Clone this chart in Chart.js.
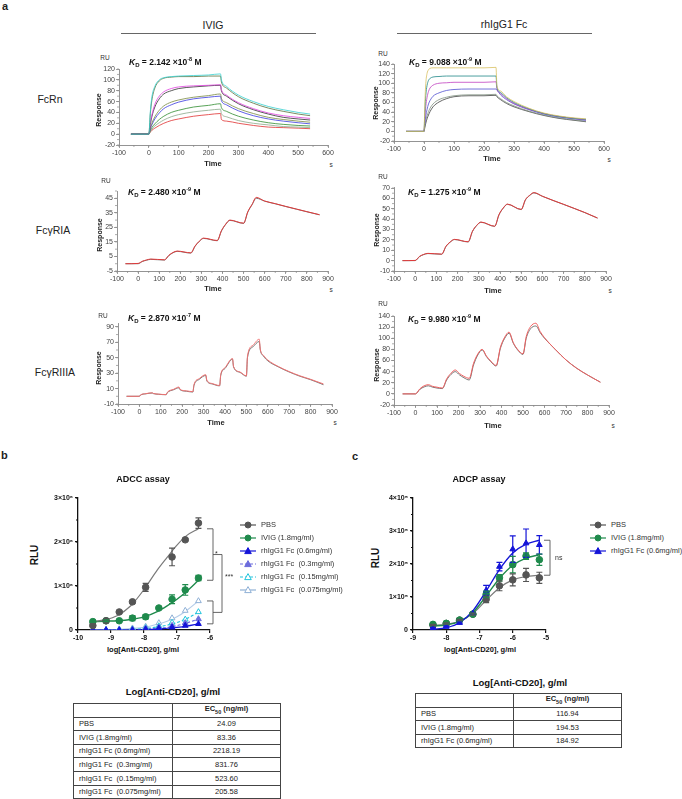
<!DOCTYPE html>
<html><head><meta charset="utf-8">
<script src="https://cdn.jsdelivr.net/npm/chart.js@4.4.1/dist/chart.umd.min.js"></script>
<style>
body{margin:0;background:#fff;}
#page{position:relative;width:682px;height:799px;overflow:hidden;font-family:"Liberation Sans",Arial,sans-serif;color:#222;background:#fff;}
.t{position:absolute;white-space:nowrap;line-height:1;}
canvas{position:absolute;}
.lab{font-size:10.5px;color:#222;}
.ru{font-size:6.5px;color:#333;}
.kd{font-size:8.5px;font-weight:bold;color:#111;}
.kd sub{font-size:6px;vertical-align:-2px;}
.kd sup{font-size:5.5px;vertical-align:4px;}
.resp{font-size:7px;font-weight:bold;color:#222;}
.time{font-size:7.5px;font-weight:bold;color:#222;}
.sec{font-size:6.5px;color:#333;}
.ttl{font-size:9px;font-weight:bold;color:#111;}
.rlu{font-size:10px;font-weight:bold;color:#111;}
.xl{font-size:7.5px;font-weight:bold;color:#111;}
.leg{font-size:7.5px;color:#333;}
.tbt{font-size:9.5px;font-weight:bold;color:#111;}
table.tb{position:absolute;border-collapse:collapse;font-size:7.5px;color:#222;}
table.tb td{border:1px solid #444;padding:0 0 0 5px;height:12.6px;line-height:1;}
table.tb td.v{text-align:center;padding:0;}
table.tb td.h{font-weight:bold;text-align:center;padding:0;}
table.tb sub{font-size:5.5px;}
.rule{position:absolute;border-top:1.2px solid #666;height:0;}
</style>
</head><body><div id="page"></div>
<script>
// ---------------- DATA ----------------
// Panel a: SPR sensorgrams (time in s, response in RU)
const fcrnIvigTime = [-60, 0, 5, 10, 20, 35, 50, 75, 100, 150, 200, 240, 243, 260, 300, 350, 400, 450, 500, 540];
const fcrnIvig1 = [0,0,42,68,88,100,104,106,107,108,109,111,100,88,72,60,51,45,40,37];
const fcrnIvig2 = [0,0,38,62,85,98,103,105,106,106,107,107,96,85,69,57,48,42,37,34];
const fcrnIvig3 = [0,0,20,35,55,70,78,84,87,89,90,91,82,72,58,47,39,34,31,29];
const fcrnIvig4 = [0,0,18,32,50,65,74,80,84,87,89,90,80,70,56,45,37,31,28,26];
const fcrnIvig5 = [0,0,12,20,32,44,52,59,63,68,71,74,66,58,47,38,31,27,24,22];
const fcrnIvig6 = [0,0,10,17,28,39,47,54,59,65,68,70,62,54,43,34,28,24,21,19];
const fcrnIvig7 = [0,0,7,12,19,27,33,40,44,50,53,56,49,42,33,26,21,18,16,15];
const fcrnIvig8 = [0,0,5,9,15,21,26,32,36,41,44,46,38,32,25,20,17,14,13,12];
const fcrnIvig9 = [0,0,4,7,11,16,20,25,28,33,36,38,27,24,20,16,13,12,11,10];
const fcrnIvigColors = ['#35d0d0','#5a6e3a','#e040e0','#303030','#7a8a40','#3838e0','#2e8b2e','#8aa88a','#e03030'];

const fcrnRhTime = [-60, 0, 3, 6, 10, 15, 20, 30, 50, 75, 100, 150, 200, 240, 243, 255, 275, 300, 350, 400, 450, 500, 540];
const fcrnRh1 = [0,0,60,100,120,128,131,132,132,132,132,132,132,133,95,84,72,62,48,38,32,28,26];
const fcrnRh2 = [0,0,45,75,95,106,110,113,114,115,115,115,115,115,92,81,70,60,47,37,31,27,25];
const fcrnRh3 = [0,0,30,52,70,83,90,96,100,101,102,102,102,103,89,79,68,58,46,37,31,27,24];
const fcrnRh4 = [0,0,18,32,45,57,64,73,80,85,87,88,88,88,86,76,66,57,45,36,30,26,23];
const fcrnRh5 = [0,0,12,22,32,41,48,57,66,71,74,76,76,77,74,68,60,53,42,34,28,24,21];
const fcrnRh6 = [0,0,9,17,26,34,41,51,61,68,72,74,74,75,72,66,58,51,41,33,27,23,20];
const fcrnRhColors = ['#d8c060','#208888','#c040c0','#5050d0','#809080','#404040'];

const riaTime = [-60,0,20,40,60,125,145,165,185,250,270,290,310,375,395,415,435,500,520,540,560,600,650,700,750,800,860];
const riaIvigData = [0,0,1.5,2.4,3.0,2.5,5.5,7.5,8.5,7.3,12,15.3,17.4,15.8,22.5,27,29.8,27.7,35.5,40.5,45,43,41.2,39.3,37.5,35.7,33.6];
const riaIvigFit  = [0,0.2,1.7,2.6,3.2,2.7,5.7,7.7,8.7,7.5,12.2,15.5,17.6,16,22.7,27.2,30,27.9,35.8,40.8,45.6,43.1,41.3,39.4,37.6,35.8,33.7];
const riaRhData = [0,0,3.8,5.8,6.8,6.1,13.5,17.8,20.3,18,28,33.8,37,33,44,50.5,54.3,49.2,58.5,62.8,65.3,62,58,54.2,50.3,46.3,41];
const riaRhFit  = [0,0.2,4.0,6.0,7.0,6.3,13.8,18,20.5,18.2,28.3,34,37.2,33.2,44.3,50.7,54.5,49.4,58.8,63,65.6,62.1,58.1,54.3,50.4,46.4,41.1];

const riiiaIvigTime = [-60,0,5,30,60,65,90,125,130,160,185,190,220,250,255,280,310,315,340,375,380,400,435,440,470,500,505,530,560,565,580,600,650,700,750,800,860];
const riiiaIvigData = [0,0,1.5,3.2,4.2,3.5,2.6,2.0,4.5,8.5,11,8.5,6.5,5.5,14,22,27,20,16,13.5,27,36,48,38,31,26,50,64,71,60,52,46,38,31.5,26,21.5,15];
const riiiaIvigFit  = [0,0,1.7,3.4,4.5,3.7,2.8,2.2,5,9,12,9,7,6,15,23,28,21,16.5,14,28,37,49,38.5,31.5,26.5,52,66,74,61,53,47,38.5,32,26.5,22,16];
const riiiaRhTime = [-60,0,20,40,60,80,100,125,145,165,185,205,225,250,270,290,310,330,350,375,395,415,435,455,475,500,515,535,560,580,600,650,700,750,800,860];
const riiiaRhData = [0,0,8,12.5,14.5,12,10.5,9.5,25,35,40,34,29,25,52,70,79,67,58,50,82,100,109,91,79,71,100,117,122,110,100,80,61,46,34,21];
const riiiaRhFit  = [0,0,9,14.5,16.5,13.5,12,10.5,27,37,43,36.5,31.5,28,55,72,80,68,59,51,84,102,111,92,80,72,103,121,127,112,101,80,61,46,34,21];

// axis ticks
const xTicks600 = [-100,0,100,200,300,400,500,600];
const xTicks900 = [-100,0,100,200,300,400,500,600,700,800,900];
const fcrnIvigYTicks = [-20,0,20,40,60,80,100,120];
const fcrnRhYTicks = [-20,0,20,40,60,80,100,120,140];
const riaIvigYTicks = [-5,5,15,25,35,45];
const riaRhYTicks = [-10,0,10,20,30,40,50,60,70];
const riiiaIvigYTicks = [-10,10,30,50,70,90];
const riiiaRhYTicks = [-20,0,20,40,60,80,100,120,140];

// Panel b: ADCC (x = log[Anti-CD20] g/ml, y = RLU x10^6)
const adccX = [-9.55,-9.15,-8.75,-8.35,-7.95,-7.55,-7.15,-6.75,-6.35];
const adccPBS = [0.10,0.21,0.41,0.64,0.97,null,1.66,2.05,2.43];
const adccPBSErr = [0.02,0.02,0.03,0.03,0.09,0,0.2,0.03,0.12];
const adccIVIG = [0.19,0.21,0.21,0.27,0.30,0.50,0.70,0.91,1.18];
const adccIVIGErr = [0.02,0.02,0.02,0.06,0.05,0.03,0.1,0.12,0.06];
const adccRh06 = [0,0,0,0,0.02,0.04,0.06,0.10,0.14];
const adccRh03 = [0,0,0,0.01,0.03,0.06,0.10,0.16,0.25];
const adccRh015 = [0,0,0.01,0.02,0.05,0.09,0.17,0.24,0.41];
const adccRh0075 = [0,0.01,0.02,0.04,0.08,0.16,0.27,0.44,0.66];
const adccCurveX = [-9.55,-9.2,-8.8,-8.4,-8.0,-7.6,-7.3,-7.0,-6.7,-6.35];
const adccPBSCurve = [0.19,0.23,0.33,0.55,0.92,1.36,1.65,1.93,2.15,2.3];
const adccIVIGCurve = [0.19,0.20,0.21,0.24,0.30,0.42,0.55,0.70,0.88,1.13];
const adccRh06Curve = [0,0,0,0,0.01,0.02,0.04,0.06,0.09,0.14];
const adccRh03Curve = [0,0,0,0.005,0.015,0.04,0.06,0.10,0.16,0.25];
const adccRh015Curve = [0,0,0.005,0.01,0.03,0.07,0.11,0.17,0.26,0.41];
const adccRh0075Curve = [0,0.005,0.01,0.03,0.06,0.13,0.20,0.30,0.45,0.66];
const adccYTicks = [0,1,2,3];
const adccYLabels = ['0','1×10⁶','2×10⁶','3×10⁶'];
const adccXTicks = [-10,-9,-8,-7,-6];

// Panel c: ADCP (y = RLU x10^5)
const adcpX = [-8.4,-8.0,-7.6,-7.2,-6.8,-6.4,-6.0,-5.6,-5.2];
const adcpPBS = [0.15,0.20,0.30,0.48,0.93,1.34,1.52,1.67,1.58];
const adcpPBSErr = [0.02,0.02,0.02,0.03,0.10,0.15,0.18,0.20,0.17];
const adcpIVIG = [0.17,0.20,0.30,0.48,1.08,1.58,1.98,2.24,2.13];
const adcpIVIGErr = [0.02,0.02,0.02,0.03,0.10,0.10,0.25,0.10,0.17];
const adcpRh06 = [0.05,0.10,0.22,0.50,1.20,1.92,2.45,2.63,2.58];
const adcpRh06Err = [0.02,0.02,0.03,0.03,0.15,0.13,0.40,0.43,0.28];
const adcpPBSCurve = [0.14,0.17,0.27,0.50,0.90,1.28,1.52,1.62,1.66];
const adcpIVIGCurve = [0.12,0.15,0.26,0.53,1.03,1.56,1.96,2.18,2.28];
const adcpRh06Curve = [0.02,0.07,0.22,0.58,1.18,1.83,2.33,2.60,2.72];
const adcpYTicks = [0,1,2,3,4];
const adcpYLabels = ['0','1×10⁵','2×10⁵','3×10⁵','4×10⁵'];
const adcpXTicks = [-9,-8,-7,-6,-5];

// Tables
const tableBNames = ['PBS','IVIG (1.8mg/ml)','rhIgG1 Fc (0.6mg/ml)','rhIgG1 Fc&nbsp; (0.3mg/ml)','rhIgG1 Fc&nbsp; (0.15mg/ml)','rhIgG1 Fc&nbsp; (0.075mg/ml)'];
const tableBValues = ['24.09','83.36','2218.19','831.76','523.60','205.58'];
const tableCNames = ['PBS','IVIG (1.8mg/ml)','rhIgG1 Fc (0.6mg/ml)'];
const tableCValues = ['116.94','194.53','184.92'];

// ---------------- PLUGINS ----------------
Chart.defaults.font.family = '"Liberation Sans", Arial, sans-serif';
Chart.defaults.animation = false;

const minorTicksPlugin = {
  id: 'minorTicks',
  afterDraw(chart, args, o) {
    if (!o || (!o.x && !o.y)) return;
    const {ctx, chartArea: a, scales} = chart;
    const xs = scales.x, ys = scales.y;
    ctx.save(); ctx.strokeStyle = o.color || '#888'; ctx.lineWidth = o.width || 0.8;
    ctx.beginPath();
    if (o.x) for (let v = xs.min; v <= xs.max + 1e-9; v += o.x) { const p = xs.getPixelForValue(v); ctx.moveTo(p, a.bottom); ctx.lineTo(p, a.bottom + o.len); }
    if (o.y) for (let v = ys.min; v <= ys.max + 1e-9; v += o.y) { const p = ys.getPixelForValue(v); ctx.moveTo(a.left, p); ctx.lineTo(a.left - o.len, p); }
    ctx.stroke(); ctx.restore();
  }
};
const errorBarsPlugin = {
  id: 'errorBars',
  afterDatasetsDraw(chart) {
    const {ctx, scales: {x, y}} = chart;
    chart.data.datasets.forEach((ds) => {
      if (!ds.errors) return;
      ctx.save(); ctx.strokeStyle = ds.errColor || ds.borderColor; ctx.lineWidth = 1.2;
      ds.data.forEach((pt, j) => {
        const e = ds.errors[j]; if (pt.y == null || !e) return;
        const px = x.getPixelForValue(pt.x), p1 = y.getPixelForValue(pt.y + e), p2 = y.getPixelForValue(pt.y - e);
        ctx.beginPath(); ctx.moveTo(px, p1); ctx.lineTo(px, p2);
        ctx.moveTo(px - 3, p1); ctx.lineTo(px + 3, p1); ctx.moveTo(px - 3, p2); ctx.lineTo(px + 3, p2); ctx.stroke();
      });
      ctx.restore();
    });
  }
};
const bracketsPlugin = {
  id: 'brackets',
  afterDraw(chart, args, o) {
    if (!o || !o.items) return;
    const {ctx, chartArea: a, scales: {y}} = chart;
    ctx.save(); ctx.strokeStyle = '#555'; ctx.lineWidth = 0.9; ctx.fillStyle = '#333';
    ctx.font = '7px "Liberation Sans", Arial';
    o.items.forEach(b => {
      const y1 = y.getPixelForValue(b.y1), y2 = y.getPixelForValue(b.y2);
      const x0 = a.right + b.x0, x1 = a.right + b.x1;
      ctx.beginPath(); ctx.moveTo(x0, y1); ctx.lineTo(x1, y1); ctx.lineTo(x1, y2); ctx.lineTo(x0, y2); ctx.stroke();
      if (b.label) { ctx.textAlign = 'left'; ctx.textBaseline = 'middle'; ctx.fillText(b.label, x1 + b.lx, (y1 + y2) / 2 + (b.ly || 0)); }
    });
    ctx.restore();
  }
};
Chart.register(minorTicksPlugin, errorBarsPlugin, bracketsPlugin);

// ---------------- HELPERS ----------------
const page = document.getElementById('page');
function T(html, x, y, cls, anchor, rot) {
  const d = document.createElement('div');
  d.className = 't ' + (cls || '');
  d.innerHTML = html;
  d.style.left = x + 'px'; d.style.top = y + 'px';
  let tr = anchor === 'l' ? 'translate(0,-50%)' : anchor === 'r' ? 'translate(-100%,-50%)' : 'translate(-50%,-50%)';
  if (rot) tr += ' rotate(-90deg)';
  d.style.transform = tr;
  page.appendChild(d);
  return d;
}
function rule(x1, x2, y) {
  const d = document.createElement('div'); d.className = 'rule';
  d.style.left = x1 + 'px'; d.style.top = y + 'px'; d.style.width = (x2 - x1) + 'px';
  page.appendChild(d);
}
function mkCanvas(L, Tp, R, B, yW, xH, padT, padR) {
  const c = document.createElement('canvas');
  const w = yW + (R - L) + padR, h = padT + (B - Tp) + xH;
  c.width = w; c.height = h;
  c.style.left = (L - yW) + 'px'; c.style.top = (Tp - padT) + 'px';
  c.style.width = w + 'px'; c.style.height = h + 'px';
  page.appendChild(c);
  return c;
}
const xy = (xs, ys) => xs.map((x, i) => ({x, y: ys[i]}));

function spr(box, xMax, yMin, yMax, xT, yT, series, minorY) {
  const yW = 22, xH = 13, padT = 6, padR = 10;
  const c = mkCanvas(box[0], box[1], box[2], box[3], yW, xH, padT, padR);
  const axis = (ticks, min, max, isY) => ({
    type: 'linear', min, max,
    afterBuildTicks: s => { s.ticks = ticks.map(v => ({value: v})); },
    afterFit: s => { if (isY) s.width = yW; else s.height = xH; },
    grid: {display: true, drawOnChartArea: false, tickLength: 3, color: '#888', lineWidth: 0.8},
    border: {color: '#888', width: 0.9},
    ticks: {font: {size: 7}, color: '#444', padding: 1, autoSkip: false, maxRotation: 0, callback: v => String(v)}
  });
  new Chart(c, {
    type: 'scatter',
    data: {datasets: series.map(s => ({
      data: xy(s.t, s.v), showLine: true, pointRadius: 0, borderColor: s.c, borderWidth: s.w || 0.8,
      cubicInterpolationMode: 'monotone', fill: false
    }))},
    options: {
      responsive: false, devicePixelRatio: 1, animation: false, events: [],
      layout: {padding: {top: padT, right: padR, left: 0, bottom: 0}},
      plugins: {legend: {display: false}, tooltip: {enabled: false},
        minorTicks: {x: 50, y: minorY, len: 2, color: '#888', width: 0.7}},
      scales: {x: axis(xT, -100, xMax, false), y: axis(yT, yMin, yMax, true)}
    }
  });
}

// ---------------- PANEL a ----------------
T('a', 2, 6, '', 'l').style.cssText += 'font-size:11px;font-weight:bold;';
T('IVIG', 213, 25, 'lab');
rule(121, 316, 33);
T('rhIgG1 Fc', 504, 24, 'lab');
rule(397, 592, 33);
T('FcRn', 50, 99, 'lab');
T('FcγRIA', 53, 230, 'lab');
T('FcγRIIIA', 55, 372, 'lab');

spr([119, 69, 328, 145], 600, -20, 120, xTicks600, fcrnIvigYTicks,
  [fcrnIvig1, fcrnIvig2, fcrnIvig3, fcrnIvig4, fcrnIvig5, fcrnIvig6, fcrnIvig7, fcrnIvig8, fcrnIvig9]
    .map((v, i) => ({t: fcrnIvigTime, v, c: fcrnIvigColors[i]})), 10);
spr([394, 64, 604, 141], 600, -20, 140, xTicks600, fcrnRhYTicks,
  [fcrnRh1, fcrnRh2, fcrnRh3, fcrnRh4, fcrnRh5, fcrnRh6]
    .map((v, i) => ({t: fcrnRhTime, v, c: fcrnRhColors[i]})), 10);
spr([117, 191, 328, 271], 900, -5, 50, xTicks900, riaIvigYTicks,
  [{t: riaTime, v: riaIvigFit, c: '#e03a3a', w: 1}, {t: riaTime, v: riaIvigData, c: '#444', w: 0.7}], 5);
spr([394, 187, 606, 271], 900, -10, 71, xTicks900, riaRhYTicks,
  [{t: riaTime, v: riaRhFit, c: '#e03a3a', w: 1}, {t: riaTime, v: riaRhData, c: '#444', w: 0.7}], 5);
spr([118, 323, 332, 404], 900, -10, 95, xTicks900, riiiaIvigYTicks,
  [{t: riiiaIvigTime, v: riiiaIvigFit, c: '#f07070', w: 1}, {t: riiiaIvigTime, v: riiiaIvigData, c: '#555', w: 0.8}], 10);
spr([394, 316, 609, 405], 900, -20, 140, xTicks900, riiiaRhYTicks,
  [{t: riiiaRhTime, v: riiiaRhFit, c: '#f06060', w: 1}, {t: riiiaRhTime, v: riiiaRhData, c: '#555', w: 0.8}], 10);

// SPR texts
const sprTexts = [
  {ru: [105, 58], kd: [129, 62], kdv: '2.142 ×10<sup>-8</sup> M', resp: [98, 110], time: [213, 164], s: [331, 165]},
  {ru: [383, 54], kd: [409, 62], kdv: '9.088 ×10<sup>-9</sup> M', resp: [375, 103], time: [492, 159], s: [609, 160]},
  {ru: [106, 181], kd: [128, 192], kdv: '2.480 ×10<sup>-9</sup> M', resp: [99, 235], time: [213, 289], s: [331, 290]},
  {ru: [383, 177], kd: [408, 192], kdv: '1.275 ×10<sup>-9</sup> M', resp: [376, 230], time: [493, 291], s: [610, 291]},
  {ru: [103, 316], kd: [128, 318], kdv: '2.870 ×10<sup>-7</sup> M', resp: [98, 368], time: [216, 423], s: [335, 423]},
  {ru: [383, 304], kd: [408, 319], kdv: '9.980 ×10<sup>-9</sup> M', resp: [376, 365], time: [493, 426], s: [613, 426]}
];
sprTexts.forEach(p => {
  T('RU', p.ru[0], p.ru[1], 'ru');
  T('<i>K</i><sub>D</sub> = ' + p.kdv, p.kd[0], p.kd[1], 'kd', 'l');
  T('Response', p.resp[0], p.resp[1], 'resp', 'c', true);
  T('Time', p.time[0], p.time[1], 'time');
  T('s', p.s[0], p.s[1], 'sec');
});

// ---------------- DOSE RESPONSE ----------------
function doseChart(box, xMin, xMax, yMax, xT, yT, yL, datasets, brackets, minorY) {
  const yW = 40, xH = 14, padT = 8, padR = box[4];
  const c = mkCanvas(box[0], box[1], box[2], box[3], yW, xH, padT, padR);
  new Chart(c, {
    type: 'scatter',
    data: {datasets},
    options: {
      responsive: false, devicePixelRatio: 1, animation: false, events: [],
      layout: {padding: {top: padT, right: padR, left: 0, bottom: 0}},
      plugins: {legend: {display: false}, tooltip: {enabled: false},
        minorTicks: {y: minorY, len: 2, color: '#111', width: 1}, brackets: {items: brackets}},
      scales: {
        x: {type: 'linear', min: xMin, max: xMax,
          afterBuildTicks: s => { s.ticks = xT.map(v => ({value: v})); },
          afterFit: s => { s.height = xH; },
          grid: {display: true, drawOnChartArea: false, tickLength: 3, color: '#111', lineWidth: 1.2},
          border: {color: '#111', width: 1.3},
          ticks: {font: {size: 7, weight: 'bold'}, color: '#111', padding: 1, autoSkip: false, maxRotation: 0, callback: v => String(v)}},
        y: {type: 'linear', min: 0, max: yMax,
          afterBuildTicks: s => { s.ticks = yT.map(v => ({value: v})); },
          afterFit: s => { s.width = yW; },
          grid: {display: true, drawOnChartArea: false, tickLength: 3, color: '#111', lineWidth: 1.2},
          border: {color: '#111', width: 1.3},
          ticks: {font: {size: 7, weight: 'bold'}, color: '#111', padding: 2, autoSkip: false, callback: (v, i) => yL[i]}}
      }
    }
  });
}
const ptSet = (xs, ys, color, style, fill, errs, rad) => ({
  data: xy(xs, ys), showLine: false, pointStyle: style, pointRadius: rad || 3.3,
  backgroundColor: fill, borderColor: color, pointBorderWidth: 1, errors: errs
});
const lineSet = (xs, ys, color, dash, w) => ({
  data: xy(xs, ys), showLine: true, pointRadius: 0, borderColor: color, borderWidth: w || 1.2,
  borderDash: dash || [], cubicInterpolationMode: 'monotone', fill: false
});

const cGray = '#555555', cGrayLine = '#7a7a7a', cGreen = '#1f8a4c', cBlue = '#1414d8', cPurple = '#6c6cdc', cCyan = '#22c4dc', cLight = '#8fb0d6';

T('b', 1, 455, '', 'l').style.cssText += 'font-size:11px;font-weight:bold;';
T('ADCC assay', 143, 479, 'ttl');
T('RLU', 35, 555, 'rlu', 'c', true);
T('log[Anti-CD20], g/ml', 143, 650, 'xl');
doseChart([78, 498, 210, 630, 34], -10, -6, 3, adccXTicks, adccYTicks, adccYLabels, [
  ptSet(adccX, adccPBS, cGray, 'circle', cGray, adccPBSErr),
  ptSet(adccX, adccIVIG, cGreen, 'circle', cGreen, adccIVIGErr),
  ptSet(adccX, adccRh06, cBlue, 'triangle', cBlue),
  ptSet(adccX, adccRh03, cPurple, 'triangle', cPurple),
  ptSet(adccX, adccRh015, cCyan, 'triangle', '#ffffff'),
  ptSet(adccX, adccRh0075, cLight, 'triangle', '#ffffff'),
  lineSet(adccCurveX, adccPBSCurve, cGrayLine),
  lineSet(adccCurveX, adccIVIGCurve, cGreen, null, 1.4),
  lineSet(adccCurveX, adccRh06Curve, cBlue),
  lineSet(adccCurveX, adccRh03Curve, cPurple, [3, 2]),
  lineSet(adccCurveX, adccRh015Curve, cCyan, [3, 2]),
  lineSet(adccCurveX, adccRh0075Curve, '#b4cce8')
], [
  {y1: adccPBSCurve.at(-1), y2: adccIVIGCurve.at(-1), x0: -3, x1: 3, label: '*', lx: 2},
  {y1: adccRh0075Curve.at(-1), y2: adccRh06Curve.at(-1), x0: -3, x1: 3},
  {y1: (adccPBSCurve.at(-1) + adccIVIGCurve.at(-1)) / 2, y2: (adccRh0075Curve.at(-1) + adccRh06Curve.at(-1)) / 2, x0: 3, x1: 12, label: '***', lx: 3, ly: -6}
], 0.5);

T('c', 352, 456, '', 'l').style.cssText += 'font-size:11px;font-weight:bold;';
T('ADCP assay', 479, 479, 'ttl');
T('RLU', 376, 558, 'rlu', 'c', true);
T('log[Anti-CD20], g/ml', 480, 650, 'xl');
doseChart([413, 498, 546, 630, 24], -9, -5, 4, adcpXTicks, adcpYTicks, adcpYLabels, [
  ptSet(adcpX, adcpRh06, cBlue, 'triangle', cBlue, adcpRh06Err),
  ptSet(adcpX, adcpIVIG, cGreen, 'circle', cGreen, adcpIVIGErr),
  ptSet(adcpX, adcpPBS, cGray, 'circle', cGray, adcpPBSErr),
  lineSet(adcpX, adcpRh06Curve, cBlue, null, 1.4),
  lineSet(adcpX, adcpIVIGCurve, cGreen, null, 1.4),
  lineSet(adcpX, adcpPBSCurve, cGrayLine)
], [
  {y1: adcpRh06Curve.at(-1), y2: adcpPBSCurve.at(-1), x0: -2, x1: 4, label: 'ns', lx: 5}
], 0.5);

// Legends
function legendRow(x, y, color, marker, fill, dash, text) {
  const d = document.createElement('div');
  d.className = 't leg';
  d.style.left = x + 'px'; d.style.top = (y - 5) + 'px';
  let m;
  if (marker === 'circle') m = `<circle cx="8" cy="5" r="3" fill="${fill}" stroke="${color}" stroke-width="1"/>`;
  else m = `<polygon points="8,1.6 11.3,7.6 4.7,7.6" fill="${fill}" stroke="${color}" stroke-width="1"/>`;
  d.innerHTML = `<svg width="16" height="10" style="vertical-align:middle"><line x1="0" y1="5" x2="16" y2="5" stroke="${color}" stroke-width="1.2" ${dash ? 'stroke-dasharray="3,2"' : ''}/>${m}</svg>`;
  page.appendChild(d);
  T(text, x + 21, y, 'leg', 'l');
}
legendRow(240, 525, cGray, 'circle', cGray, false, 'PBS');
legendRow(240, 538, cGreen, 'circle', cGreen, false, 'IVIG (1.8mg/ml)');
legendRow(240, 551, cBlue, 'triangle', cBlue, false, 'rhIgG1 Fc (0.6mg/ml)');
legendRow(240, 564, cPurple, 'triangle', cPurple, true, 'rhIgG1 Fc&nbsp; (0.3mg/ml)');
legendRow(240, 577, cCyan, 'triangle', '#fff', true, 'rhIgG1 Fc&nbsp; (0.15mg/ml)');
legendRow(240, 590, cLight, 'triangle', '#fff', false, 'rhIgG1 Fc&nbsp; (0.075mg/ml)');
legendRow(590, 525, cGray, 'circle', cGray, false, 'PBS');
legendRow(590, 538, cGreen, 'circle', cGreen, false, 'IVIG (1.8mg/ml)');
legendRow(590, 551, cBlue, 'triangle', cBlue, false, 'rhIgG1 Fc (0.6mg/ml)');

// Tables
function table(x, y, w, c1, names, vals) {
  const t = document.createElement('table'); t.className = 'tb';
  t.style.left = x + 'px'; t.style.top = y + 'px'; t.style.width = w + 'px';
  let h = `<tr><td style="width:${c1 - 6}px"></td><td class="h">EC<sub>50</sub> (ng/ml)</td></tr>`;
  names.forEach((n, i) => { h += `<tr><td>${n}</td><td class="v">${vals[i]}</td></tr>`; });
  t.innerHTML = h;
  page.appendChild(t);
}
T('Log[Anti-CD20], g/ml', 173, 692, 'tbt');
table(73, 703, 208, 99, tableBNames, tableBValues);
T('Log[Anti-CD20], g/ml', 520, 683, 'tbt');
table(415, 693, 207, 98, tableCNames, tableCValues);
</script>
</body></html>
